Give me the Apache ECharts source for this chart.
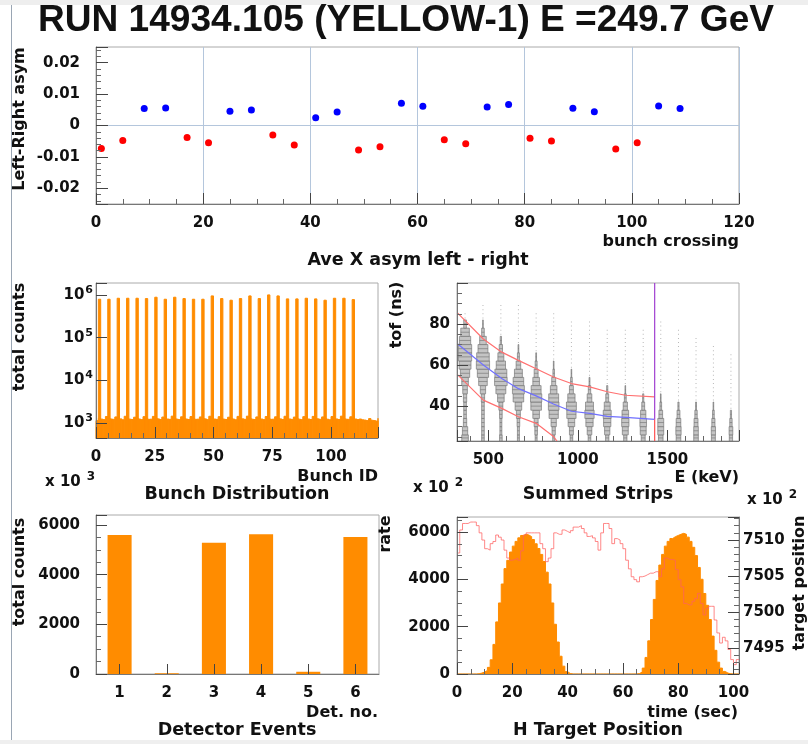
<!DOCTYPE html>
<html>
<head>
<meta charset="utf-8">
<script src="https://cdn.jsdelivr.net/npm/echarts@6/dist/echarts.min.js"></script>
<style>
  html, body { margin: 0; padding: 0; background: #fff; }
  #chart { width: 808px; height: 744px; }
</style>
</head>
<body>
<div id="chart"></div>
<script>
// ---- values ----

// Left-right asymmetry per bunch crossing
const asymBunch = [1, 5, 9, 13, 17, 21, 25, 29, 33, 37, 41, 45, 49, 53, 57, 61, 65, 69, 73, 77, 81, 85, 89, 93, 97, 101, 105, 109]
const asymValue = [-0.0073, -0.0048, 0.0054, 0.0056, -0.0038, -0.0055, 0.0045, 0.0049, -0.0030, -0.0062, 0.0025, 0.0043, -0.0078, -0.0068,
  0.0071, 0.0061, -0.0045, -0.0058, 0.0059, 0.0067, -0.0041, -0.0049, 0.0055, 0.0044, -0.0075, -0.0055, 0.0062, 0.0054]

// Bunch distribution (120 bins of 1 bunch, log scale)
const bunchBackground = [
  1150, 1300, 1240, 1210, 1430, 1300, 1250, 1230, 1400, 1290, 1260, 1200, 1450, 1280, 1240, 1220,
  1380, 1300, 1250, 1210, 1420, 1290, 1230, 1240, 1440, 1310, 1260, 1220, 1390, 1280, 1250, 1230,
  1460, 1300, 1240, 1210, 1410, 1290, 1250, 1220, 1430, 1280, 1230, 1240, 1400, 1300, 1260, 1210,
  1450, 1290, 1250, 1230, 1420, 1280, 1240, 1220, 1380, 1300, 1250, 1200, 1440, 1290, 1260, 1230,
  1460, 1310, 1240, 1220, 1400, 1280, 1250, 1210, 1430, 1300, 1230, 1240, 1410, 1290, 1260, 1220,
  1450, 1280, 1250, 1230, 1390, 1300, 1240, 1210, 1420, 1290, 1250, 1220, 1440, 1310, 1260, 1230,
  1400, 1280, 1240, 1200, 1430, 1300, 1250, 1220, 1460, 1290, 1240, 1230, 1410, 1280, 1250, 1210,
  1250, 1200, 1180, 1150, 1280, 1170, 1150, 1120, 1300, 1160, 1180, 1100]
const spikeBunch = [1, 5, 9, 13, 17, 21, 25, 29, 33, 37, 41, 45, 49, 53, 57, 61, 65, 69, 73, 77, 81, 85, 89, 93, 97, 101, 105, 109]
const spikeCounts = [793000, 793000, 836000, 836000, 836000, 822000, 883000, 793000, 883000, 822000, 793000, 793000, 948000, 822000,
  752000, 822000, 948000, 822000, 1000000, 948000, 807000, 807000, 836000, 807000, 752000, 836000, 836000, 778000]

// Summed strips: tof vs energy, box counts per column (rows are tof centres)
const stripE = [370, 470, 570, 668, 767, 865, 964, 1065, 1164, 1265, 1365, 1463, 1562, 1660, 1757, 1855]
const tofRows = [24, 28, 32, 36, 40, 44, 48, 52, 56, 60, 64, 68, 72, 76, 80, 84, 88, 92]
const stripCounts = [
  [5, 4, 2.5, 2, 2, 2.5, 3.5, 5, 7, 9, 10, 10, 8.5, 6.5, 2, 0.3, 0, 0],
  [2, 2, 2, 2, 2, 2.5, 4, 6.5, 8.5, 10, 9.5, 7.5, 5, 2, 0.5, 0.3, 0.3, 0],
  [2, 1.5, 1.5, 2, 3, 5, 7.5, 9.5, 9, 7, 4.5, 2.5, 1, 0.4, 0.3, 0.3, 0.3, 0],
  [1.5, 1.5, 2, 3, 5, 8, 9, 8, 6, 3.5, 1.5, 0.6, 0.3, 0.3, 0.3, 0.3, 0.3, 0],
  [1.5, 2, 3, 5, 8, 8.5, 7.5, 5, 3, 1.5, 0.6, 0.3, 0.3, 0.3, 0.3, 0.3, 0, 0],
  [1.5, 2.5, 4, 7, 8, 7.5, 5, 3, 1.2, 0.5, 0.3, 0.3, 0.3, 0.3, 0.3, 0.3, 0, 0],
  [2, 3, 5, 7, 7.5, 5.5, 3, 1.3, 0.5, 0.3, 0.3, 0.3, 0.3, 0.3, 0.3, 0, 0, 0],
  [2, 3.5, 5.5, 7, 6, 3.5, 1.8, 0.7, 0.3, 0.3, 0.3, 0.3, 0.3, 0.3, 0.3, 0, 0, 0],
  [2.5, 4, 5.5, 6, 4.5, 2.2, 0.9, 0.4, 0.3, 0.3, 0.3, 0.3, 0.3, 0.3, 0, 0, 0, 0],
  [2.5, 4.5, 5.5, 5, 3.2, 1.4, 0.5, 0.3, 0.3, 0.3, 0.3, 0.3, 0.3, 0.3, 0, 0, 0, 0],
  [3, 4.5, 5, 4, 2.2, 0.9, 0.4, 0.3, 0.3, 0.3, 0.3, 0.3, 0.3, 0.3, 0, 0, 0, 0],
  [3.5, 4.5, 4.5, 2.8, 1.3, 0.5, 0.3, 0.3, 0.3, 0.3, 0.3, 0.3, 0.3, 0.3, 0.3, 0, 0, 0],
  [3.5, 4, 3.5, 2.2, 0.9, 0.3, 0.3, 0.3, 0.3, 0.3, 0.3, 0.3, 0.3, 0.3, 0, 0, 0, 0],
  [3.5, 3.5, 3, 1.8, 0.7, 0.3, 0.3, 0.3, 0.3, 0.3, 0.3, 0.3, 0.3, 0, 0, 0, 0, 0],
  [3, 3.2, 2.4, 1.3, 0.5, 0.3, 0.3, 0.3, 0.3, 0.3, 0.3, 0.3, 0, 0, 0, 0, 0, 0],
  [2.5, 2.8, 1.8, 0.9, 0.4, 0.3, 0.3, 0.3, 0.3, 0.3, 0.3, 0, 0, 0, 0, 0, 0, 0]]
const cutE = [326, 472, 575, 668, 767, 864, 964, 1066, 1164, 1266, 1429]
const cutUpperTof = [85.6, 72.7, 66.3, 62.3, 58.2, 54.2, 51, 49.4, 47, 45.3, 44.5]
const meanTof = [70.5, 60, 53.5, 48.5, 45, 41, 37.5, 36.5, 35, 34.5, 33.5]
const cutLowerE = [326, 472, 575, 668, 767, 864, 900]
const cutLowerTof = [55.5, 42.9, 38.9, 34.8, 31.6, 25.2, 21]
const cutEnergy = 1429

// Detector events
const detNo = ['1', '2', '3', '4', '5', '6']
const detCounts = [5590, 30, 5280, 5630, 90, 5510]

// H target: rate per 1 s bin and target position
const rateCounts = [
  0, 0, 0, 0, 0, 0, 0, 10, 40, 80, 150, 280, 600, 1250, 2200, 3000, 3800, 4450, 4800, 5150,
  5400, 5600, 5750, 5850, 5900, 5870, 5800, 5680, 5500, 5300, 5050, 4750, 4300, 3800, 3000, 2100, 1350, 750, 330, 100,
  20, 0, 0, 0, 0, 0, 0, 0, 0, 0, 0, 0, 0, 0, 0, 0, 0, 0, 0, 0,
  0, 0, 0, 0, 0, 20, 80, 250, 700, 1400, 2300, 3150, 3950, 4600, 5050, 5400, 5600, 5720, 5800, 5850,
  5900, 5940, 5900, 5780, 5600, 5350, 5000, 4500, 4000, 3400, 2900, 2300, 1600, 1000, 500, 250, 110, 40, 10, 0,
  0, 0]
const targetPos = [
  7508.2, 7511.4, 7512.3, 7512.3, 7512.5, 7512.5, 7512.5, 7512.0, 7511.0, 7510.0,
  7508.8, 7508.6, 7509.5, 7509.8, 7510.7, 7510.4, 7510.0, 7508.6, 7507.5, 7507.2,
  7507.3, 7507.5, 7507.2, 7508.5, 7510.7, 7511.0, 7511.0, 7511.0, 7511.0, 7511.0,
  7509.5, 7508.8, 7507.0, 7507.5, 7508.8, 7511.0, 7510.8, 7510.8, 7511.4, 7511.2,
  7511.0, 7511.3, 7511.8, 7511.8, 7512.0, 7511.6, 7511.0, 7510.5, 7510.6, 7510.3,
  7509.8, 7508.6, 7511.0, 7512.3, 7512.3, 7511.6, 7509.5, 7510.2, 7510.0, 7509.5,
  7508.8, 7507.2, 7506.0, 7504.9, 7504.5, 7504.2, 7504.9, 7505.0, 7505.2, 7505.4,
  7505.4, 7505.6, 7505.6, 7504.9, 7506.0, 7507.5, 7507.3, 7507.3, 7507.2, 7505.9,
  7504.5, 7503.5, 7501.2, 7501.0, 7501.0, 7501.5, 7501.9, 7502.6, 7501.2, 7499.6,
  7500.5, 7500.8, 7500.8, 7498.9, 7497.1, 7495.7, 7496.5, 7496.0, 7494.8, 7493.4,
  7492.7, 7493.4]

// ---- drawing ----
const FONT = 'DejaVu Sans'
const ORANGE = '#ff8c00'
const BUNCH_MIN = 450
const BOX_SCALE = 3.7 // E units of half width per count unit
const ROW = 4 // tof row height

const chart = echarts.init(document.getElementById('chart'))

// show a label only on multiples of step
function only(step) {
  return (v) => (Math.abs(v / step - Math.round(v / step)) < 1e-6 ? String(+v.toFixed(6)) : '')
}

function axis(gridIndex, min, max, o = {}) {
  return {
    type: o.type || 'value',
    gridIndex,
    min,
    max,
    interval: o.interval,
    splitNumber: o.splitNumber,
    position: o.position,
    logBase: 10,
    data: o.data,
    boundaryGap: o.boundaryGap,
    z: 5,
    axisLine: { show: true, onZero: false, lineStyle: { color: '#777' } },
    axisTick: { show: true, inside: true, alignWithLabel: true, length: o.tickLen || 11, lineStyle: { color: '#444' } },
    minorTick: { show: !!o.minor, splitNumber: o.minor || 5, length: 5, lineStyle: { color: '#666' } },
    splitLine: o.splitLine || { show: false },
    axisLabel: {
      margin: o.margin == null ? 12 : o.margin,
      formatter: o.formatter,
      color: '#111',
      fontFamily: FONT,
      fontWeight: 'bold',
      fontSize: 15,
      rich: o.rich,
    },
  }
}

function clipArea(params) {
  const cs = params.coordSys
  return { x: cs.x, y: cs.y, width: cs.width, height: cs.height }
}

// histogram bin from x to x+width, filled down to base
function histBin(width, base, color) {
  return function (params, api) {
    const x = api.value(0)
    const a = api.coord([x, api.value(1)])
    const b = api.coord([x + width, base])
    const r = echarts.graphic.clipRectByRect({ x: a[0], y: a[1], width: b[0] - a[0], height: b[1] - a[1] }, clipArea(params))
    return r && { type: 'rect', shape: r, style: { fill: color, stroke: color, lineWidth: 1 } }
  }
}

function stripBox(params, api) {
  const e = api.value(0), t = api.value(1), c = api.value(2)
  const area = clipArea(params)
  if (c < 0.5) {
    // faint dotted trail
    const dots = [t - ROW / 4, t + ROW / 4].map((tt) => {
      const p = api.coord([e, tt])
      return { type: 'rect', shape: { x: p[0] - 0.5, y: p[1] - 0.5, width: 1, height: 1 }, style: { fill: '#b8b8b8' } }
    }).filter((d) => d.shape.y > area.y && d.shape.y < area.y + area.height)
    return { type: 'group', children: dots }
  }
  const half = c * BOX_SCALE
  const a = api.coord([e - half, t + ROW / 2])
  const b = api.coord([e + half, t - ROW / 2])
  const r = echarts.graphic.clipRectByRect({ x: a[0], y: a[1], width: b[0] - a[0], height: b[1] - a[1] }, area)
  if (!r) return
  const mid = r.y + r.height / 2
  return {
    type: 'group',
    children: [
      { type: 'rect', shape: r, style: { fill: '#c4c4c4', stroke: '#6a6a6a', lineWidth: 0.6 } },
      { type: 'line', shape: { x1: r.x, y1: mid, x2: r.x + r.width, y2: mid }, style: { stroke: '#707070', lineWidth: 0.6 } },
    ],
  }
}

const stripData = []
stripE.forEach((e, i) => {
  tofRows.forEach((t, j) => {
    if (stripCounts[i][j] > 0) stripData.push([e, t, stripCounts[i][j]])
  })
})

const asymRed = [], asymBlue = []
asymBunch.forEach((b, i) => (asymValue[i] < 0 ? asymRed : asymBlue).push([b, asymValue[i]]))

// histogram outlines drawn as step lines (value holds until next bin)
const rateData = rateCounts.map((v, i) => [i, v])
rateData.push([rateCounts.length, rateCounts[rateCounts.length - 1]])
const targetData = targetPos.map((v, i) => [i, v])
targetData.push([targetPos.length, targetPos[targetPos.length - 1]])

const logRich = {
  b: { color: '#111', fontFamily: FONT, fontWeight: 'bold', fontSize: 15 },
  s: { color: '#111', fontFamily: FONT, fontWeight: 'bold', fontSize: 11, padding: [0, 0, 10, 1] },
}
const logLabel = (v) => {
  const e = Math.log10(v)
  return Math.abs(e - Math.round(e)) < 1e-6 ? '{b|10}{s|' + Math.round(e) + '}' : ''
}

function text(str, x, y, o = {}) {
  return {
    type: 'text',
    x,
    y,
    rotation: o.rotate ? Math.PI / 2 : 0,
    scaleX: o.scaleX || 1,
    z: 100,
    style: {
      text: str,
      fill: '#111',
      fontFamily: o.family || FONT,
      fontWeight: 'bold',
      fontSize: o.size || 16,
      align: o.align || 'center',
      verticalAlign: 'middle',
      rich: o.rich,
    },
  }
}
const expRich = {
  a: { fill: '#111', fontFamily: FONT, fontWeight: 'bold', fontSize: 15 },
  s: { fill: '#111', fontFamily: FONT, fontWeight: 'bold', fontSize: 12, padding: [0, 0, 10, 6] },
}

const gridBase = { show: true, borderColor: '#aaa', borderWidth: 1, outerBoundsMode: 'none', containLabel: false }

const option = {
  animation: false,
  backgroundColor: '#fff',
  grid: [
    Object.assign({ left: 96, top: 47, width: 643, height: 157 }, gridBase),
    Object.assign({ left: 96, top: 283, width: 282, height: 155 }, gridBase),
    Object.assign({ left: 457, top: 283, width: 282, height: 158 }, gridBase),
    Object.assign({ left: 96, top: 515, width: 283, height: 159 }, gridBase),
    Object.assign({ left: 457, top: 517, width: 282, height: 157 }, gridBase),
  ],
  xAxis: [
    axis(0, 0, 120, { interval: 20, minor: 4, formatter: only(20), splitLine: { show: true, lineStyle: { color: '#b4c6dc', width: 1 } } }),
    axis(1, 0, 120, { interval: 25, minor: 5, formatter: only(25) }),
    axis(2, 325, 1900, { splitNumber: 3, minor: 5, formatter: only(500) }),
    axis(3, null, null, { type: 'category', data: detNo, boundaryGap: true, tickLen: 10 }),
    axis(4, 0, 102, { interval: 20, minor: 4, formatter: only(20) }),
  ],
  yAxis: [
    axis(0, -0.025, 0.025, { minor: 5, margin: 16, tickLen: 12, formatter: only(0.01) }),
    axis(1, BUNCH_MIN, 1900000, { type: 'log', margin: 3, formatter: logLabel, rich: logRich }),
    axis(2, 23, 100, { splitNumber: 4, minor: 4, margin: 7, formatter: (v) => ([40, 60, 80].includes(v) ? String(v) : '') }),
    axis(3, 0, 6400, { interval: 2000, minor: 4, margin: 16, formatter: only(2000) }),
    axis(4, 0, 6630, { interval: 2000, minor: 4, margin: 7, formatter: only(2000) }),
    axis(4, 7491.4, 7513.2, { position: 'right', splitNumber: 4, minor: 5, margin: 4, formatter: only(5) }),
  ],
  series: [
    {
      type: 'scatter', xAxisIndex: 0, yAxisIndex: 0, data: asymRed, symbolSize: 7,
      itemStyle: { color: '#ff0000', opacity: 1 },
      markLine: {
        silent: true, symbol: 'none', label: { show: false },
        lineStyle: { color: '#b4c6dc', type: 'solid', width: 1 },
        data: [{ yAxis: 0 }],
      },
    },
    { type: 'scatter', xAxisIndex: 0, yAxisIndex: 0, data: asymBlue, symbolSize: 7, itemStyle: { color: '#0000ff', opacity: 1 } },

    {
      type: 'custom', xAxisIndex: 1, yAxisIndex: 1,
      data: bunchBackground.map((v, i) => [i, v]),
      encode: { x: 0, y: 1 },
      renderItem: histBin(1, BUNCH_MIN, ORANGE),
    },
    {
      type: 'custom', xAxisIndex: 1, yAxisIndex: 1,
      data: spikeBunch.map((b, i) => [b, spikeCounts[i]]),
      encode: { x: 0, y: 1 },
      renderItem: histBin(1, BUNCH_MIN, ORANGE),
    },

    { type: 'custom', xAxisIndex: 2, yAxisIndex: 2, data: stripData, encode: { x: 0, y: 1 }, renderItem: stripBox },
    {
      type: 'line', xAxisIndex: 2, yAxisIndex: 2, symbol: 'none',
      data: cutE.map((e, i) => [e, cutUpperTof[i]]),
      lineStyle: { color: '#ff7070', width: 1.2 },
    },
    {
      type: 'line', xAxisIndex: 2, yAxisIndex: 2, symbol: 'none',
      data: cutLowerE.map((e, i) => [e, cutLowerTof[i]]),
      lineStyle: { color: '#ff7070', width: 1.2 },
    },
    {
      type: 'line', xAxisIndex: 2, yAxisIndex: 2, symbol: 'none',
      data: cutE.map((e, i) => [e, meanTof[i]]),
      lineStyle: { color: '#7070ff', width: 1.2 },
    },
    {
      type: 'line', xAxisIndex: 2, yAxisIndex: 2, symbol: 'none',
      data: [[cutEnergy, 100], [cutEnergy, meanTof[meanTof.length - 1]]],
      lineStyle: { color: '#a040d0', width: 1.2 },
    },
    {
      type: 'line', xAxisIndex: 2, yAxisIndex: 2, symbol: 'none',
      data: [[cutEnergy, meanTof[meanTof.length - 1]], [cutEnergy, 23]],
      lineStyle: { color: '#ff5050', width: 1.2 },
    },

    {
      type: 'bar', xAxisIndex: 3, yAxisIndex: 3, data: detCounts, barWidth: '51%',
      itemStyle: { color: ORANGE },
    },

    {
      type: 'line', xAxisIndex: 4, yAxisIndex: 4, symbol: 'none', step: 'end',
      data: rateData,
      lineStyle: { color: ORANGE, width: 1 },
      areaStyle: { color: ORANGE, opacity: 1, origin: 'start' },
    },
    {
      type: 'line', xAxisIndex: 4, yAxisIndex: 5, symbol: 'none', step: 'end',
      data: targetData,
      lineStyle: { color: '#ff6060', width: 1, opacity: 0.75 },
      z: 4,
    },
  ],
  graphic: [
    { type: 'rect', shape: { x: 0, y: 0, width: 808, height: 5 }, style: { fill: '#eeeeee' } },
    { type: 'rect', shape: { x: 0, y: 740, width: 808, height: 4 }, style: { fill: '#efefef' } },
    { type: 'line', shape: { x1: 11.5, y1: 5, x2: 11.5, y2: 740 }, style: { stroke: '#9aa6b4', lineWidth: 1 } },

    text('RUN 14934.105 (YELLOW-1) E =249.7 GeV', 406, 21, { family: 'Liberation Sans', size: 36, scaleX: 1.03 }),

    text('Left-Right asym', 20, 119, { rotate: true }),
    text('bunch crossing', 739, 242, { align: 'right' }),
    text('Ave X asym left - right', 418, 260, { size: 17.5 }),

    text('total counts', 20, 337, { rotate: true }),
    text('Bunch ID', 378, 477, { align: 'right' }),
    text('{a|x 10}{s|3}', 45, 482, { align: 'left', rich: expRich }),
    text('Bunch Distribution', 237, 494, { size: 17.5 }),

    text('tof (ns)', 397, 315, { rotate: true }),
    text('E (keV)', 739, 478, { align: 'right' }),
    text('{a|x 10}{s|2}', 413, 488, { align: 'left', rich: expRich }),
    text('Summed Strips', 598, 494, { size: 17.5 }),
    text('{a|x 10}{s|2}', 747, 500, { align: 'left', rich: expRich }),

    text('total counts', 20, 572, { rotate: true }),
    text('rate', 386, 534, { rotate: true }),
    text('Det. no.', 378, 713, { align: 'right' }),
    text('Detector Events', 237, 730, { size: 17.5 }),

    text('time (sec)', 738, 713, { align: 'right' }),
    text('H Target Position', 598, 730, { size: 17.5 }),
    text('target position', 800, 583, { rotate: true }),
  ],
}

chart.setOption(option)
</script>
</body>
</html>
